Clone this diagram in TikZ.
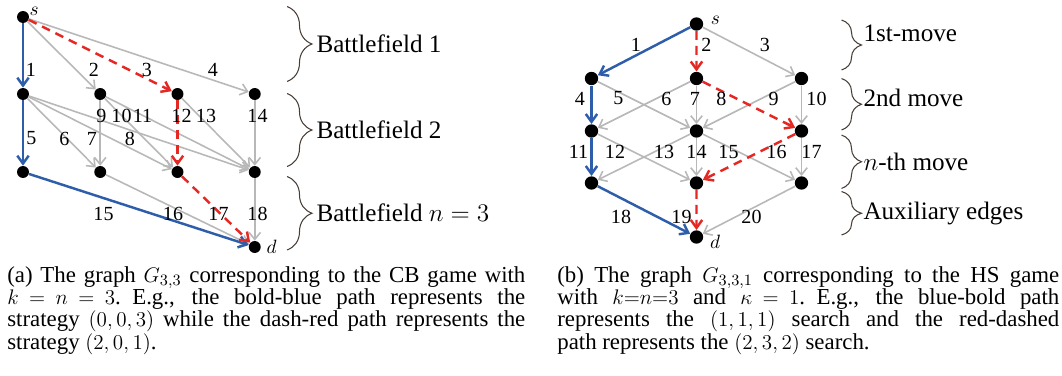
\documentclass[tikz,border=0pt]{standalone}
\usepackage{fontspec}
\setmainfont{Liberation Serif}
\usetikzlibrary{
  arrows.meta,
  positioning,
  decorations.pathreplacing,
}
\definecolor{pathblue}{RGB}{46,94,170}
\definecolor{pathred}{RGB}{228,40,36}
\definecolor{edgegray}{RGB}{184,184,184}
\definecolor{bracegray}{RGB}{72,62,56}
\newcommand{\capspace}{\spaceskip=0.25em plus 0.5em minus 0.05em\relax}

\begin{document}
\begin{tikzpicture}[
    vtx/.style={fill=black, circle, inner sep=0pt, minimum size=6.8pt},
    arr/.style={edgegray, line width=0.9pt, -{Straight Barb[length=4pt,width=6.5pt]}},
    bluearr/.style={pathblue, line width=1.4pt, -{Straight Barb[length=4.5pt,width=6.5pt]}},
    redarr/.style={pathred, line width=1.4pt, dash pattern=on 5pt off 3.5pt,
        -{Straight Barb[length=4.5pt,width=6.5pt]}},
    lab/.style={font=\fontsize{11.4}{12}\selectfont, inner sep=0pt},
    brc/.style={bracegray, line width=0.6pt, decorate, decoration={brace, amplitude=#1}},
    blab/.style={font=\fontsize{14.3}{16}\selectfont, black, inner sep=0pt},
    cap/.style={font=\fontsize{13}{12.7}\selectfont,
        inner sep=0pt, anchor=north west, text width=#1, align=left},
  ]
  \useasboundingbox (0,0) rectangle (21.24,-7.5);

  % (a) CB game graph
  \node[vtx, label={[lab, inner sep=0.5pt, yshift=-1.5pt]30:$s$}] (cs) at (0.46,-0.34) {};
  \foreach \j in {0,...,3} {
      \node[vtx] (c1\j) at ({0.46+1.545*\j},-1.88) {};
      \node[vtx] (c2\j) at ({0.46+1.545*\j},-3.44) {};
    }
  \node[vtx, label={[lab, inner sep=3pt]right:$d$}] (cd) at (5.095,-4.94) {};

  \foreach \a/\b in {cs/c11, cs/c13, c10/c21, c10/c22, c10/c23, c11/c21, c11/c22,
      c11/c23, c12/c23, c13/c23, c21/cd, c23/cd} {
      \draw[arr] (\a) -- (\b);
    }
  \foreach \a/\b in {cs/c10, c10/c20, c20/cd} {
      \draw[bluearr] (\a) -- (\b);
    }
  \foreach \a/\b in {cs/c12, c12/c22, c22/cd} {
      \draw[redarr] (\a) -- (\b);
    }

  \foreach \t/\x/\y in {1/0.62/-1.40, 2/1.88/-1.40, 3/2.94/-1.40, 4/4.26/-1.40,
      5/0.63/-2.77, 6/1.29/-2.77, 7/1.84/-2.77, 8/2.60/-2.77,
      9/2.03/-2.31, 10/2.43/-2.31, 11/2.85/-2.31, 12/3.63/-2.31, 13/4.12/-2.31,
      14/5.15/-2.31, 15/2.07/-4.27, 16/3.46/-4.27, 17/4.37/-4.27, 18/5.15/-4.27} {
      \node[lab] (cl\t) at (\x,\y) {\t};
    }

  \foreach \ya/\yb/\txt in {-0.13/-1.63/Battlefield 1, -1.87/-3.33/Battlefield 2,
      -3.53/-5.00/Battlefield $n=3$} {
      \draw[brc=0.5cm] (5.74,\ya) -- node[blab, right=0.58cm] {\txt} (5.74,\yb);
    }

  % (b) HS game graph
  \begin{scope}[vtx/.append style={minimum size=7.6pt}]
    \node[vtx, label={[lab, inner sep=4pt, yshift=2pt]right:$s$}] (hs) at (13.93,-0.48) {};
    \foreach \c in {0,1,2} {
        \node[vtx] (h1\c) at ({11.83+2.1*\c},-1.57) {};
        \node[vtx] (h2\c) at ({11.83+2.1*\c},-2.62) {};
        \node[vtx] (h3\c) at ({11.83+2.1*\c},-3.66) {};
      }
    \node[vtx, label={[lab, inner sep=3.5pt, yshift=-3pt]right:$d$}] (hd) at (13.93,-4.74) {};
  \end{scope}

  \foreach \a/\b in {hs/h12, h10/h21, h11/h20, h11/h21, h12/h21, h12/h22,
      h20/h31, h21/h30, h21/h31, h21/h32, h22/h32, h32/hd} {
      \draw[arr] (\a) -- (\b);
    }
  \foreach \a/\b in {hs/h10, h10/h20, h20/h30, h30/hd} {
      \draw[bluearr] (\a) -- (\b);
    }
  \foreach \a/\b in {hs/h11, h11/h22, h22/h31, h31/hd} {
      \draw[redarr] (\a) -- (\b);
    }

  \foreach \t/\x/\y in {1/12.72/-0.90, 2/14.13/-0.90, 3/15.30/-0.90,
      4/11.60/-1.97, 5/12.37/-1.97, 6/13.33/-1.97, 7/13.90/-1.97, 8/14.43/-1.97,
      9/15.47/-1.97, 10/16.33/-1.97, 11/11.57/-3.03, 12/12.30/-3.03, 13/13.28/-3.03,
      14/13.93/-3.03, 15/14.57/-3.03, 16/15.53/-3.03, 17/16.23/-3.03,
      18/12.42/-4.33, 19/13.63/-4.33, 20/15.03/-4.33} {
      \node[lab] (hl\t) at (\x,\y) {\t};
    }

  \foreach \ya/\yb/\ys/\txt in {-0.40/-1.40/0.24/1st-move, -1.57/-2.60/0.12/2nd move,
      -2.70/-3.77/0/$n$-th move, -3.83/-4.70/0/Auxiliary edges} {
      \draw[brc=0.4cm] (16.83,\ya) -- node[blab, right=0.43cm, yshift=\ys cm] {\txt} (16.83,\yb);
    }

  % captions
  \node[cap=10.36cm] (capa) at (0.14,-5.32) {\capspace
    \makebox[\linewidth][s]{(a) The graph $G_{3,3}$ corresponding to the CB game with}\\
    \makebox[\linewidth][s]{$k = n = 3$. E.g., the bold-blue path represents the}\\
    \makebox[\linewidth][s]{strategy $(0,0,3)$ while the dash-red path represents the}\\
    strategy $(2,0,1)$.};
  \node[cap=10.04cm] (capb) at (11.14,-5.32) {\capspace
    \makebox[\linewidth][s]{(b) The graph $G_{3,3,1}$ corresponding to the HS game}\\
    \makebox[\linewidth][s]{with $k{=}n{=}3$ and $\kappa = 1$. E.g., the blue-bold path}\\
    \makebox[\linewidth][s]{represents the $(1,1,1)$ search and the red-dashed}\\
    path represents the $(2,3,2)$ search.};
\end{tikzpicture}
\end{document}
